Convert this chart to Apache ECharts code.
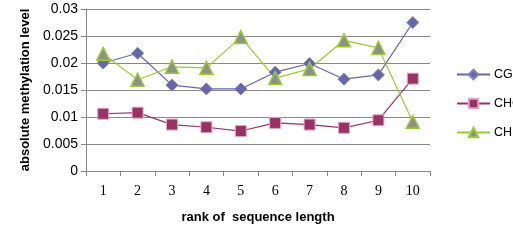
<!DOCTYPE html>
<html><head><meta charset="utf-8">
<script src="https://cdn.jsdelivr.net/npm/echarts@6/dist/echarts.min.js"></script>
<style>html,body{margin:0;padding:0;background:#fff}#c{width:513px;height:242px}</style>
</head><body><div id="c"></div>
<script>
const categories = ['1','2','3','4','5','6','7','8','9','10'];
const cgValues  = [0.0200,0.0218,0.0159,0.0152,0.0152,0.0183,0.0199,0.0170,0.0178,0.0275];
const chgValues = [0.0106,0.0108,0.0086,0.0081,0.0074,0.0089,0.0086,0.0080,0.0094,0.0171];
const chhValues = [0.0217,0.0169,0.0193,0.0191,0.0248,0.0172,0.0189,0.0242,0.0228,0.0091];
const yTicks = ['0','0.005','0.01','0.015','0.02','0.025','0.03'];

const chart = echarts.init(document.getElementById('c'), null, {renderer:'canvas'});
chart.setOption({
  animation:false,
  backgroundColor:'#fff',
  grid:{left:86,right:83,top:9,bottom:71,containLabel:false},
  legend:{
    orient:'vertical', left:456, top:68, padding:0, itemWidth:33, itemHeight:12, itemGap:16,
    textStyle:{fontFamily:'Liberation Sans, Arial, sans-serif', fontSize:12.5, color:'#000', padding:[0,0,0,-1]},
    data:['CG','CHG','CHH']
  },
  xAxis:{
    type:'category', data:categories, boundaryGap:true,
    name:'rank of  sequence length', nameLocation:'middle', nameGap:40,
    nameTextStyle:{fontFamily:'Liberation Sans, Arial, sans-serif', fontWeight:'bold', fontSize:13, color:'#000'},
    axisLine:{lineStyle:{color:'#888', width:1}},
    axisTick:{show:true, length:5, inside:false, alignWithLabel:false, lineStyle:{color:'#888'}},
    axisLabel:{fontFamily:'Liberation Serif, Times New Roman, serif', fontSize:14, color:'#000', margin:13},
    splitLine:{show:false}
  },
  yAxis:{
    type:'value', min:0, max:0.03, interval:0.005,
    name:'absolute methylation level', nameLocation:'middle', nameGap:53, nameRotate:90,
    nameTextStyle:{fontFamily:'Liberation Sans, Arial, sans-serif', fontWeight:'bold', fontSize:13, color:'#000'},
    axisLine:{show:true, lineStyle:{color:'#888', width:1}},
    axisTick:{show:true, length:5, lineStyle:{color:'#888'}},
    axisLabel:{fontFamily:'Liberation Sans, Arial, sans-serif', fontSize:14, color:'#000', margin:8,
      formatter:(v)=>yTicks[Math.round(v/0.005)]},
    splitLine:{show:true, lineStyle:{color:'#888', width:1}}
  },
  series:[
    {name:'CG', type:'line', data:cgValues, symbol:'diamond', symbolSize:12,
      lineStyle:{color:'#6666a8', width:1.2}, itemStyle:{color:'#6666a8', borderColor:'#8080b8', borderWidth:1}},
    {name:'CHG', type:'line', data:chgValues, symbol:'rect', symbolSize:11,
      lineStyle:{color:'#993366', width:1.2}, itemStyle:{color:'#993366', borderColor:'#e0a8c8', borderWidth:1}},
    {name:'CHH', type:'line', data:chhValues, symbol:'triangle', symbolSize:13,
      lineStyle:{color:'#99cc33', width:1.2}, itemStyle:{color:'#8e8e8e', borderColor:'#99cc33', borderWidth:1.5}}
  ]
});
</script></body></html>
